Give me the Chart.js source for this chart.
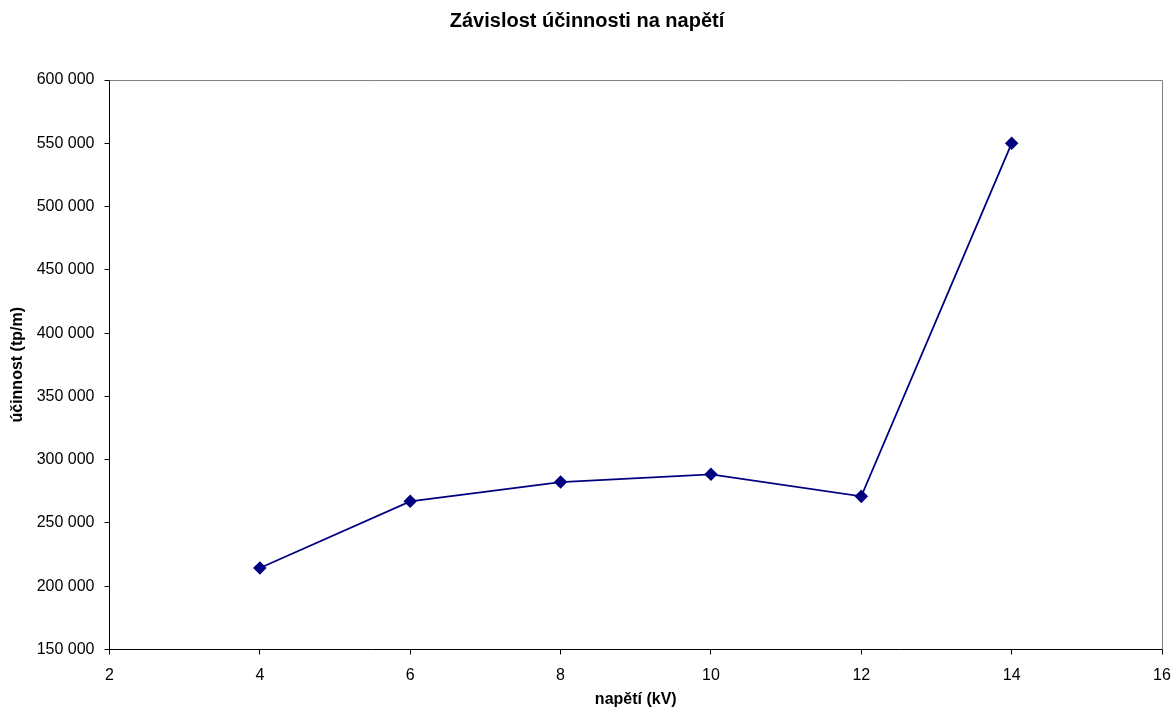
<!DOCTYPE html>
<html>
<head>
<meta charset="utf-8">
<script src="https://cdn.jsdelivr.net/npm/chart.js@4"></script>
<style>
html,body{margin:0;padding:0;background:#fff;}
#wrap{width:1174px;height:710px;position:relative;}
</style>
</head>
<body>
<div id="wrap"><canvas id="c" width="1174" height="710"></canvas></div>
<script>
const chartTitle = "Závislost účinnosti na napětí";
const xAxisTitle = "napětí (kV)";
const yAxisTitle = "účinnost (tp/m)";
const voltages = [4, 6, 8, 10, 12, 14];
const efficiency = [214400, 267100, 282300, 288400, 271000, 550000];
const xTicks = [2, 4, 6, 8, 10, 12, 14, 16];
const yTicks = [150000, 200000, 250000, 300000, 350000, 400000, 450000, 500000, 550000, 600000];

const FONT = "'Liberation Sans', Arial, sans-serif";

function fmt(v){
  return String(v).replace(/\B(?=(\d{3})+(?!\d))/g, ' ');
}

const frame = {
  id: 'frame',
  afterDatasetsDraw(chart){
    const {ctx, chartArea:a} = chart;
    ctx.save();
    ctx.strokeStyle = '#808080';
    ctx.lineWidth = 1;
    ctx.beginPath();
    ctx.moveTo(a.left, a.top + 0.5);
    ctx.lineTo(a.right + 0.5, a.top + 0.5);
    ctx.lineTo(a.right + 0.5, a.bottom);
    ctx.stroke();
    ctx.restore();
  }
};

new Chart(document.getElementById('c'), {
  type: 'scatter',
  data: {
    datasets: [{
      data: voltages.map((v, i) => ({x: v, y: efficiency[i]})),
      showLine: true,
      borderColor: '#000080',
      backgroundColor: '#000080',
      borderWidth: 1.8,
      pointStyle: 'rectRot',
      pointRadius: 5.5,
      pointHoverRadius: 5.5,
      tension: 0
    }]
  },
  options: {
    responsive: false,
    animation: false,
    layout: {padding: 0},
    plugins: {
      legend: {display: false},
      tooltip: {enabled: false},
      title: {
        display: true,
        text: chartTitle,
        color: '#000',
        font: {family: FONT, size: 20, weight: 'bold'},
        padding: {top: 9, bottom: 47}
      }
    },
    scales: {
      x: {
        type: 'linear',
        min: 2, max: 16,
        afterBuildTicks(s){ s.ticks = xTicks.map(v => ({value: v})); },
        afterFit(s){ s.height = 60.5; s.paddingLeft = 0; s.paddingRight = 0; },
        ticks: {color: '#000', font: {family: FONT, size: 16}, padding: 11, callback: v => fmt(v), maxRotation: 0},
        grid: {display: true, drawOnChartArea: false, drawTicks: true, tickLength: 5, color: '#000'},
        border: {display: true, color: '#000', width: 1},
        title: {display: true, text: xAxisTitle, color: '#000', font: {family: FONT, size: 16, weight: 'bold'}, padding: {top: 0, bottom: 1}}
      },
      y: {
        type: 'linear',
        min: 150000, max: 600000,
        afterBuildTicks(s){ s.ticks = yTicks.map(v => ({value: v})); },
        afterFit(s){ s.width = 109.5; s.paddingTop = 0; s.paddingBottom = 0; },
        ticks: {color: '#000', font: {family: FONT, size: 16}, padding: 10, callback: v => fmt(v)},
        grid: {display: true, drawOnChartArea: false, drawTicks: true, tickLength: 5, color: '#000'},
        border: {display: true, color: '#000', width: 1},
        title: {display: true, text: yAxisTitle, color: '#000', font: {family: FONT, size: 16, weight: 'bold'}, padding: {top: 8, bottom: 0}}
      },
      yR: {
        type: 'linear',
        position: 'right',
        display: true,
        afterFit(s){ s.width = 12; s.paddingTop = 0; s.paddingBottom = 0; },
        ticks: {display: false},
        grid: {display: false},
        border: {display: false}
      }
    }
  },
  plugins: [frame]
});
</script>
</body>
</html>
